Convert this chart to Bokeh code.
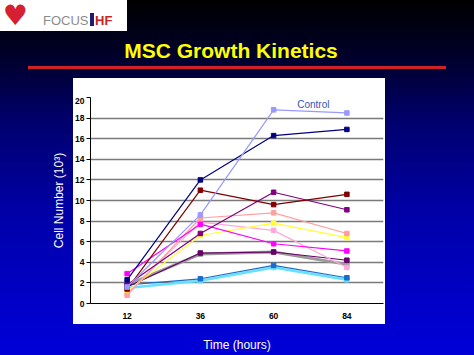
from bokeh.plotting import figure
from bokeh.models import Label, FixedTicker, Range1d, Div
from bokeh.layouts import column
from bokeh.embed import file_html
from bokeh.resources import INLINE

# ---- data (cell number, 10^3) ----
hours = [12, 36, 60, 84]
control = [1.6, 8.6, 18.8, 18.5]
donor_1 = [2.3, 12.0, 16.3, 16.9]
donor_2 = [1.4, 11.0, 9.6, 10.6]
donor_3 = [1.8, 6.8, 10.8, 9.1]
donor_4 = [2.9, 7.7, 5.8, 5.1]
donor_5 = [0.8, 8.3, 8.8, 6.8]
donor_6 = [1.2, 6.6, 7.8, 6.4]
donor_7 = [1.0, 7.9, 7.1, 3.5]
donor_8 = [1.6, 4.9, 5.0, 4.2]
donor_9 = [1.8, 4.8, 5.0, 3.8]
donor_10 = [1.8, 2.4, 3.7, 2.5]
donor_11 = [1.5, 2.2, 3.5, 2.3]
y_ticks = [0, 2, 4, 6, 8, 10, 12, 14, 16, 18, 20]

series = [
    (donor_9, "#9a9a9a", 3.0),
    (donor_11, "#66e0ff", 2.5),
    (donor_10, "#1a6ccc", 1.2),
    (donor_8, "#660066", 1.2),
    (donor_7, "#ffa8d8", 1.2),
    (donor_6, "#ffff33", 1.2),
    (donor_5, "#ff9f9f", 1.2),
    (donor_4, "#ff00ff", 1.2),
    (donor_3, "#800080", 1.2),
    (donor_2, "#800000", 1.2),
    (donor_1, "#000080", 1.2),
    (control, "#9999ff", 1.2),
]

p = figure(
    width=474, height=258,
    frame_width=293, frame_height=206,
    min_border_left=90, min_border_right=91,
    min_border_top=0, min_border_bottom=52,
    x_range=Range1d(0, 96), y_range=Range1d(0, 20),
    output_backend="svg", toolbar_location=None,
)
p.border_fill_color = None
p.background_fill_color = "white"
p.outline_line_color = None

for vals, color, lw in series:
    p.line(hours, vals, line_color=color, line_width=lw)
    p.scatter(hours, vals, marker="square", size=4.5, fill_color=color,
              line_color=color)

# axes
p.xaxis.ticker = FixedTicker(ticks=hours)
p.yaxis.ticker = FixedTicker(ticks=y_ticks)
for ax in (p.xaxis, p.yaxis):
    ax.major_label_text_font = "Liberation Sans"
    ax.major_label_text_font_style = "bold"
    ax.major_label_text_font_size = "8.5px"
    ax.major_label_text_color = "black"
    ax.axis_line_color = "black"
    ax.minor_tick_line_color = None
    ax.axis_label_text_font = "Liberation Sans"
    ax.axis_label_text_font_style = "normal"
    ax.axis_label_text_font_size = "12px"
    ax.axis_label_text_color = "white"
p.xaxis.major_tick_out = 0
p.xaxis.major_tick_in = 0
p.xaxis.major_label_standoff = 9
p.xaxis.axis_label = "Time (hours)"
p.xaxis.axis_label_standoff = 16
p.yaxis.major_tick_out = 4
p.yaxis.major_tick_in = 0
p.yaxis.major_label_standoff = 2
p.yaxis.axis_label = "Cell Number (10³)"
p.yaxis.axis_label_standoff = 6

p.xgrid.grid_line_color = None
p.ygrid.grid_line_color = "#7a7a7a"
p.ygrid.grid_line_width = 1.6

p.add_layout(Label(x=73, y=19.3, text="Control", text_color="#3355bb",
                   text_font="Liberation Sans", text_font_size="10px",
                   text_align="center", text_baseline="middle"))

# slide header: logo and title
header_html = (
    '<div style="position:relative;width:474px;height:97px;overflow:hidden;">'
    '<div style="position:absolute;left:0px;top:0px;width:127px;height:31px;'
    'background:#ffffff;"></div>'
    '<div style="position:absolute;left:3px;top:1px;font:28px \'DejaVu Sans\';'
    'color:#d42030;line-height:30px;">&#9829;</div>'
    '<div style="position:absolute;left:43px;top:13px;font:13px \'Liberation Sans\';'
    'color:#8c8c8c;line-height:15px;">FOCUS</div>'
    '<div style="position:absolute;left:90px;top:13px;width:4px;height:13px;'
    'background:#1c1c70;"></div>'
    '<div style="position:absolute;left:95px;top:13px;font:bold 13px \'Liberation Sans\';'
    'color:#cc2222;line-height:15px;">HF</div>'
    '<div style="position:absolute;left:0px;top:38px;width:462px;text-align:center;'
    'font:bold 21px \'Liberation Sans\';color:#ffff00;line-height:25px;">'
    'MSC Growth Kinetics</div>'
    '<div style="position:absolute;left:28px;top:66px;width:418px;height:3px;'
    'background:#d0202a;"></div>'
    '</div>'
)
header = Div(text=header_html, width=474, height=97, margin=(0, 0, 0, 0))

layout = column(header, p, spacing=0, margin=(0, 0, 0, 0))
layout.styles = {
    "background": (
        "linear-gradient(#ffffff,#ffffff) 73px 78px / 312px 246px no-repeat, "
        "linear-gradient(to bottom, #000000 0%, #000028 15%, #000070 35%, "
        "#0000a8 60%, #0000c8 85%, #0000d8 100%)"
    )
}

open("out.html", "w").write(file_html(layout, INLINE))
